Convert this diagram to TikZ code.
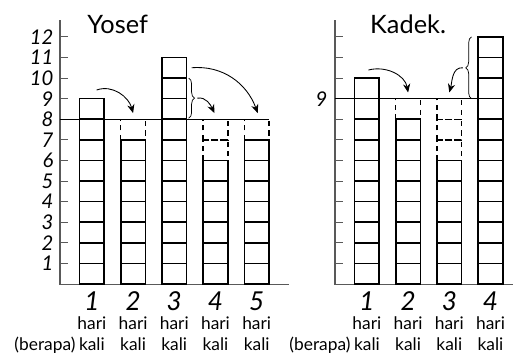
\documentclass[tikz,border=0pt]{standalone}
\usepackage{fontspec}
\setmainfont{Lato}
\usetikzlibrary{arrows.meta,decorations.pathreplacing}
\tikzstyle{texto}=[inner sep=0pt]
\tikzstyle{getal}=[inner sep=0pt,font=\fontsize{14}{14}\selectfont\itshape]
\tikzstyle{dag}=[inner sep=0pt,font=\fontsize{18}{18}\selectfont\itshape]
\tikzstyle{woord}=[inner sep=0pt,anchor=base,font=\fontsize{12}{12}\selectfont]
\tikzstyle{naam}=[inner sep=0pt,font=\fontsize{17.5}{17.5}\selectfont]
\tikzstyle{as}=[draw=black!65,line width=0.8pt]
\tikzstyle{balk}=[draw=black,line width=1.1pt]
\tikzstyle{stip}=[draw=black,line width=1pt,dash pattern=on 3.5pt off 3pt]
\tikzstyle{pijl}=[line width=0.6pt,-{Stealth[length=6pt,width=5pt]}]
\tikzstyle{accolade}=[line width=0.5pt,decorate,decoration={brace,amplitude=4pt}]

\begin{document}
\begin{tikzpicture}[x=0.5cm,y=0.5cm]
    \useasboundingbox (-2.91,-3.45) rectangle (22.04,13.79);

    % Yosef
    \draw [as] (0,12.8) -- (0,0) -- (11.1,0);
    \foreach \k in {1,...,12} {
        \draw [as] (0,\k) -- (0.4,\k);
        \node [getal,anchor=east] (yl\k) at (-0.3,\k) {\k};
    }
    \draw [line width=0.6pt] (0,8) -- (10.15,8);
    \foreach \x/\k in {3.55/8, 7.55/7, 7.55/8, 9.55/8}
        \draw [stip] (\x-0.6,\k-1) rectangle (\x+0.6,\k);
    \foreach \x/\h in {1.55/9, 3.55/7, 5.55/11, 7.55/6, 9.55/7}
        \foreach \k in {1,...,\h}
            \draw [balk] (\x-0.6,\k-1) rectangle (\x+0.6,\k);
    \foreach \x/\d in {1.55/1, 3.55/2, 5.55/3, 7.55/4, 9.55/5} {
        \node [dag] (yd\d) at (\x,-0.83) {\d};
        \node [woord] (yh\d) at (\x,-2.2) {hari};
        \node [woord] (yk\d) at (\x,-3.2) {kali};
    }
    \node [woord,anchor=base east] (yb) at (yk1.base west) {(berapa)\,};
    \node [naam] (yosef) at (2.8,12.62) {Yosef};

    \coordinate (ya1) at (1.78,9.42);
    \coordinate (ya2) at (3.55,8.3);
    \coordinate (ya3) at (6.39,10.5);
    \coordinate (ya5) at (9.6,8.3);
    \coordinate (ya4) at (7.5,8.3);
    \draw [pijl] (ya1) to[out=20,in=105] (ya2);
    \draw [pijl] (ya3) to[out=5,in=110] (ya5);
    \draw [accolade] (6.25,10) -- (6.25,8.05) coordinate[midway,xshift=6pt] (ytip);
    \draw [pijl] (ytip) to[out=10,in=115] (ya4);

    % Kadek
    \draw [as] (13.35,12.8) -- (13.35,0) -- (21.99,0);
    \foreach \k in {1,...,12}
        \draw [as] (13.35,\k) -- (13.75,\k);
    \node [getal,anchor=east] (kl9) at (13.0,9) {9};
    \draw [line width=0.6pt] (13.35,9) -- (20.3,9);
    \foreach \x/\k in {16.9/9, 18.9/7, 18.9/8, 18.9/9}
        \draw [stip] (\x-0.6,\k-1) rectangle (\x+0.6,\k);
    \foreach \x/\h in {14.9/10, 16.9/8, 18.9/6, 20.9/12}
        \foreach \k in {1,...,\h}
            \draw [balk] (\x-0.6,\k-1) rectangle (\x+0.6,\k);
    \foreach \x/\d in {14.9/1, 16.9/2, 18.9/3, 20.9/4} {
        \node [dag] (kd\d) at (\x,-0.83) {\d};
        \node [woord] (kh\d) at (\x,-2.2) {hari};
        \node [woord] (kk\d) at (\x,-3.2) {kali};
    }
    \node [woord,anchor=base east] (kb) at (kk1.base west) {(berapa)\,};
    \node [naam] (kadek) at (16.9,12.62) {Kadek.};

    \coordinate (ka1) at (14.97,10.39);
    \coordinate (ka2) at (16.9,9.3);
    \coordinate (ka3) at (18.9,9.3);
    \draw [pijl] (ka1) to[out=15,in=100] (ka2);
    \draw [accolade] (19.98,9) -- (19.98,12) coordinate[midway,xshift=-6pt] (ktip);
    \draw [pijl] (ktip) to[out=175,in=75] (ka3);
\end{tikzpicture}
\end{document}
